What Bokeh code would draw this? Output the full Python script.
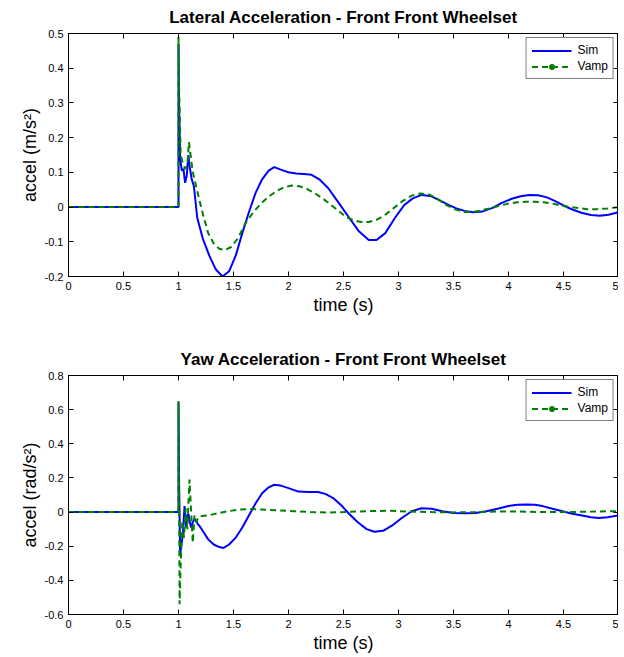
from bokeh.plotting import figure
from bokeh.layouts import column
from bokeh.models import (ColumnDataSource, LinearAxis, FixedTicker, Legend, LegendItem,
                          Range1d)
from bokeh.embed import file_html
from bokeh.resources import INLINE

# ---------------- data ----------------
# Lateral acceleration (top)
lat_sim_t = [0, 1.0, 1.0, 1.005, 1.015, 1.03, 1.045, 1.06, 1.075, 1.09, 1.1, 1.12, 1.14, 1.17,
             1.22, 1.28, 1.34, 1.4, 1.46, 1.52, 1.58, 1.64, 1.7, 1.76, 1.82, 1.87, 1.93, 2.0,
             2.07, 2.14, 2.21, 2.28, 2.36, 2.45, 2.55, 2.64, 2.73, 2.8, 2.88, 2.97, 3.05, 3.13,
             3.21, 3.29, 3.37, 3.45, 3.52, 3.6, 3.68, 3.76, 3.85, 3.94, 4.03, 4.11, 4.19, 4.27,
             4.35, 4.42, 4.49, 4.58, 4.67, 4.75, 4.83, 4.91, 5.0]
lat_sim_v = [0, 0, 0.47, 0.3, 0.14, 0.105, 0.11, 0.07, 0.09, 0.15, 0.12, 0.08, 0.06, -0.03,
             -0.09, -0.14, -0.18, -0.2, -0.185, -0.14, -0.075, -0.015, 0.04, 0.08, 0.105, 0.115,
             0.108, 0.10, 0.097, 0.095, 0.093, 0.08, 0.055, 0.015, -0.03, -0.07, -0.095, -0.095,
             -0.075, -0.03, 0.005, 0.025, 0.035, 0.032, 0.02, 0.007, -0.003, -0.011, -0.015,
             -0.013, -0.003, 0.012, 0.024, 0.031, 0.035, 0.034, 0.028, 0.018, 0.006, -0.007,
             -0.017, -0.023, -0.025, -0.022, -0.015]
lat_vamp_t = [0, 1.0, 1.0, 1.005, 1.02, 1.04, 1.06, 1.08, 1.095, 1.11, 1.13, 1.16, 1.19, 1.23,
              1.27, 1.32, 1.37, 1.42, 1.48, 1.54, 1.61, 1.68, 1.75, 1.82, 1.89, 1.96, 2.03, 2.1,
              2.17, 2.24, 2.31, 2.38, 2.45, 2.52, 2.59, 2.66, 2.73, 2.8, 2.88, 2.96, 3.04, 3.12,
              3.2, 3.28, 3.36, 3.44, 3.52, 3.6, 3.68, 3.76, 3.84, 3.92, 4.0, 4.08, 4.16, 4.24,
              4.32, 4.4, 4.48, 4.56, 4.64, 4.72, 4.8, 4.9, 5.0]
lat_vamp_v = [0, 0, 0.49, 0.35, 0.15, 0.125, 0.11, 0.12, 0.187, 0.15, 0.1, 0.06, 0.02, -0.03,
              -0.075, -0.105, -0.12, -0.124, -0.115, -0.09, -0.046, -0.015, 0.01, 0.03, 0.046,
              0.057, 0.062, 0.06, 0.052, 0.04, 0.025, 0.008, -0.01, -0.028, -0.038, -0.043,
              -0.043, -0.037, -0.022, -0.002, 0.018, 0.033, 0.039, 0.036, 0.022, 0.005, -0.007,
              -0.014, -0.014, -0.009, -0.003, 0.004, 0.01, 0.014, 0.015, 0.015, 0.014, 0.01,
              0.004, 0.0, -0.003, -0.006, -0.006, -0.004, 0.0]

# Yaw acceleration (bottom)
yaw_sim_t = [0, 1.0, 1.0, 1.005, 1.015, 1.025, 1.04, 1.055, 1.07, 1.08, 1.09, 1.1, 1.115, 1.13,
             1.145, 1.16, 1.175, 1.19, 1.23, 1.27, 1.32, 1.37, 1.41, 1.46, 1.52, 1.58, 1.64,
             1.7, 1.76, 1.82, 1.87, 1.93, 2.0, 2.09, 2.18, 2.27, 2.34, 2.41, 2.48, 2.55, 2.63,
             2.71, 2.78, 2.86, 2.94, 3.03, 3.12, 3.21, 3.3, 3.4, 3.5, 3.6, 3.7, 3.8, 3.9, 4.0,
             4.08, 4.16, 4.24, 4.31, 4.4, 4.49, 4.58, 4.67, 4.75, 4.82, 4.9, 5.0]
yaw_sim_v = [0, 0, 0.64, 0.2, -0.25, -0.2, -0.13, 0.035, -0.09, -0.02, -0.01, -0.05, -0.09,
             -0.06, -0.04, -0.05, -0.07, -0.08, -0.12, -0.16, -0.19, -0.205, -0.21, -0.19,
             -0.15, -0.09, -0.02, 0.05, 0.11, 0.145, 0.16, 0.155, 0.14, 0.12, 0.118, 0.118,
             0.105, 0.08, 0.04, -0.01, -0.06, -0.1, -0.115, -0.11, -0.08, -0.035, 0.005, 0.022,
             0.02, 0.005, -0.005, -0.007, -0.005, 0.005, 0.02, 0.035, 0.043, 0.045, 0.043,
             0.035, 0.02, 0.005, -0.01, -0.02, -0.03, -0.035, -0.03, -0.02]
yaw_vamp_t = [0, 1.0, 1.0, 1.005, 1.01, 1.02, 1.035, 1.05, 1.065, 1.08, 1.1, 1.115, 1.13, 1.145,
              1.16, 1.18, 1.2, 1.25, 1.3, 1.37, 1.45, 1.55, 1.65, 1.75, 1.9, 2.05, 2.2, 2.35,
              2.5, 2.7, 2.9, 3.1, 3.3, 3.5, 3.7, 3.9, 4.1, 4.3, 4.5, 4.7, 4.9, 5.0]
yaw_vamp_v = [0, 0, 0.65, 0.1, -0.54, -0.3, -0.05, -0.15, 0.02, -0.1, 0.19, 0.0, -0.18, -0.02,
              -0.06, -0.03, -0.025, -0.02, -0.015, -0.005, 0.005, 0.015, 0.018, 0.015, 0.01,
              0.005, 0.0, -0.003, 0.0, 0.005, 0.008, 0.003, 0.0, -0.002, 0.0, 0.003, 0.003, 0.0,
              0.0, 0.002, 0.005, 0.005]

x_ticks = [0, 0.5, 1, 1.5, 2, 2.5, 3, 3.5, 4, 4.5, 5]
x_tick_labels = ["0", "0.5", "1", "1.5", "2", "2.5", "3", "3.5", "4", "4.5", "5"]
lat_y_ticks = [-0.2, -0.1, 0, 0.1, 0.2, 0.3, 0.4, 0.5]
lat_y_labels = ["-0.2", "-0.1", "0", "0.1", "0.2", "0.3", "0.4", "0.5"]
yaw_y_ticks = [-0.6, -0.4, -0.2, 0, 0.2, 0.4, 0.6, 0.8]
yaw_y_labels = ["-0.6", "-0.4", "-0.2", "0", "0.2", "0.4", "0.6", "0.8"]

FONT = "Liberation Sans"
BLUE = "#0000ff"
GREEN = "#008000"


def style_axis(ax, ticks, labels, show_labels=True):
    ax.ticker = FixedTicker(ticks=ticks)
    if show_labels:
        ax.major_label_overrides = {t: l for t, l in zip(ticks, labels)}
    else:
        ax.major_label_overrides = {t: "" for t in ticks}
    ax.major_tick_in = 5
    ax.major_tick_out = 0
    ax.minor_tick_line_color = None
    ax.axis_line_color = "black"
    ax.major_tick_line_color = "black"
    ax.major_label_text_font = FONT
    ax.major_label_text_color = "black"
    ax.major_label_text_font_size = "11px" if show_labels else "1px"
    ax.major_label_standoff = 5 if show_labels else 0
    ax.axis_label_text_font = FONT
    ax.axis_label_text_font_style = "normal"
    ax.axis_label_text_color = "black"
    ax.axis_label_text_font_size = "18px"
    ax.axis_label_standoff = 2


def make_plot(title, ylab, yr, yt, yl, st, sv, vt, vv, h, top, bottom):
    p = figure(width=618, height=h, x_range=(0, 5), y_range=yr,
               output_backend="svg", toolbar_location=None,
               min_border_left=68, min_border_right=0,
               min_border_top=top, min_border_bottom=bottom)
    p.title.text = title
    p.title.align = "center"
    p.title.vertical_align = "top"
    p.title.text_font = FONT
    p.title.text_font_size = "17px"
    p.title.text_font_style = "bold"
    p.title.text_color = "black"
    p.title.standoff = 10
    p.grid.visible = False
    p.outline_line_color = "black"
    p.background_fill_color = "white"
    p.border_fill_color = "white"
    style_axis(p.xaxis[0], x_ticks, x_tick_labels)
    style_axis(p.yaxis[0], yt, yl)
    p.xaxis[0].axis_label = "time (s)"
    p.yaxis[0].axis_label = ylab
    top_ax = LinearAxis()
    style_axis(top_ax, x_ticks, x_tick_labels, show_labels=False)
    right_ax = LinearAxis()
    style_axis(right_ax, yt, yl, show_labels=False)
    p.add_layout(top_ax, "above")
    p.add_layout(right_ax, "right")

    # range used only so that the legend's marker sample has a renderer (all points off-frame)
    p.extra_y_ranges = {"legend_only": Range1d(10, 11)}

    r_sim = p.line(st, sv, line_color=BLUE, line_width=2)
    src_v = ColumnDataSource(dict(x=vt, y=vv))
    r_vamp = p.line("x", "y", source=src_v, line_color=GREEN, line_width=2, line_dash="6 4")
    r_dot = p.scatter("x", "y", source=src_v, size=5, fill_color=GREEN, line_color=GREEN,
                      y_range_name="legend_only")
    leg = Legend(items=[LegendItem(label="Sim", renderers=[r_sim]),
                        LegendItem(label="Vamp", renderers=[r_vamp, r_dot])],
                 location="top_right")
    leg.border_line_color = "black"
    leg.border_line_width = 1
    leg.background_fill_alpha = 1
    leg.label_text_font = FONT
    leg.label_text_font_size = "12px"
    leg.label_text_color = "black"
    leg.glyph_width = 40
    leg.glyph_height = 13
    leg.label_height = 13
    leg.label_standoff = 6
    leg.spacing = 2
    leg.padding = 5
    leg.margin = 4
    p.add_layout(leg)
    return p


p1 = make_plot("Lateral Acceleration - Front Front Wheelset", "accel (m/s²)", (-0.2, 0.5),
               lat_y_ticks, lat_y_labels, lat_sim_t, lat_sim_v, lat_vamp_t, lat_vamp_v,
               h=344, top=33, bottom=68)
p2 = make_plot("Yaw Acceleration - Front Front Wheelset", "accel (rad/s²)", (-0.6, 0.8),
               yaw_y_ticks, yaw_y_labels, yaw_sim_t, yaw_sim_v, yaw_vamp_t, yaw_vamp_v,
               h=311, top=30, bottom=40)

layout = column(p1, p2, spacing=0)
open("out.html", "w").write(file_html(layout, INLINE))
